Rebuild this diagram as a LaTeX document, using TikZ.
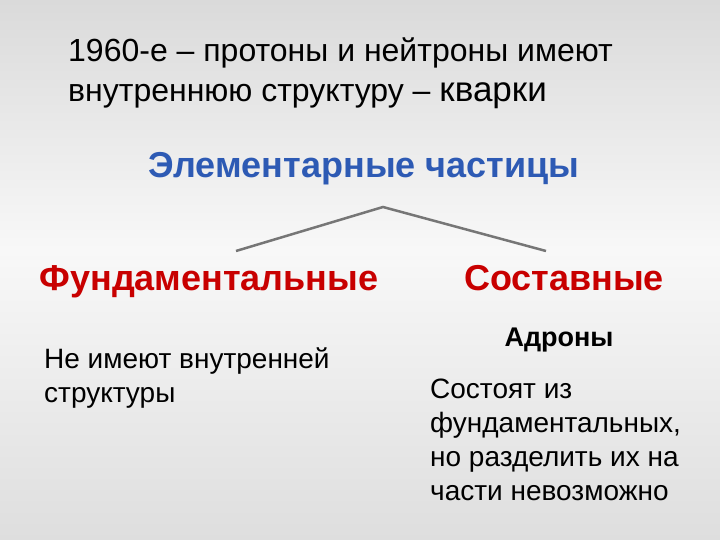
\documentclass[tikz,border=0pt]{standalone}
\usepackage{fontspec}
\setmainfont{Liberation Sans}
\definecolor{hblue}{RGB}{45,90,180}
\definecolor{hred}{RGB}{200,0,0}
\definecolor{lgray}{RGB}{118,118,118}
\definecolor{bgtop}{RGB}{218,218,218}
\definecolor{bgmid}{RGB}{248,248,248}
\definecolor{bgbot}{RGB}{222,222,222}
\tikzset{
  txt/.style={anchor=base west, inner sep=0pt},
  titletxt/.style={txt, font=\fontsize{32}{40}\selectfont},
  bodytxt/.style={txt, font=\fontsize{28}{34}\selectfont},
  head/.style={anchor=base, inner sep=0pt, font=\bfseries\fontsize{36}{42}\selectfont},
  conn/.style={draw=lgray, line width=2.5pt},
}
\begin{document}
\begin{tikzpicture}[x=1pt,y=-1pt]
\useasboundingbox (0,0) rectangle (720,540);
\shade[top color=bgtop, bottom color=bgmid] (0,0) rectangle (720,250);
\shade[top color=bgmid, bottom color=bgbot] (0,250) rectangle (720,540);
\node[titletxt] (t1) at (68,62) {1960-е – протоны и нейтроны имеют};
\node[titletxt] (t2) at (68,102) {внутреннюю структуру – {\fontsize{35}{40}\selectfont кварки}};
\node[head, text=hblue] (elem) at (364,178) {Элементарные частицы};
\coordinate (top) at (383,207);
\coordinate (lend) at (236,251);
\coordinate (rend) at (546,251);
\draw[conn] (lend) -- (top) -- (rend);
\node[head, text=hred] (fund) at (209,290) {Фундаментальные};
\node[head, text=hred] (sost) at (564,290) {Составные};
\node[anchor=base, inner sep=0pt, font=\bfseries\fontsize{27}{32}\selectfont] (adr) at (559,346) {Адроны};
\node[bodytxt] (ne1) at (44,368) {Не имеют внутренней};
\node[bodytxt] (ne2) at (44,402) {структуры};
\node[bodytxt] (s1) at (430,398) {Состоят из};
\node[bodytxt] (s2) at (430,432) {фундаментальных,};
\node[bodytxt] (s3) at (430,466) {но разделить их на};
\node[bodytxt] (s4) at (430,500) {части невозможно};
\end{tikzpicture}
\end{document}
